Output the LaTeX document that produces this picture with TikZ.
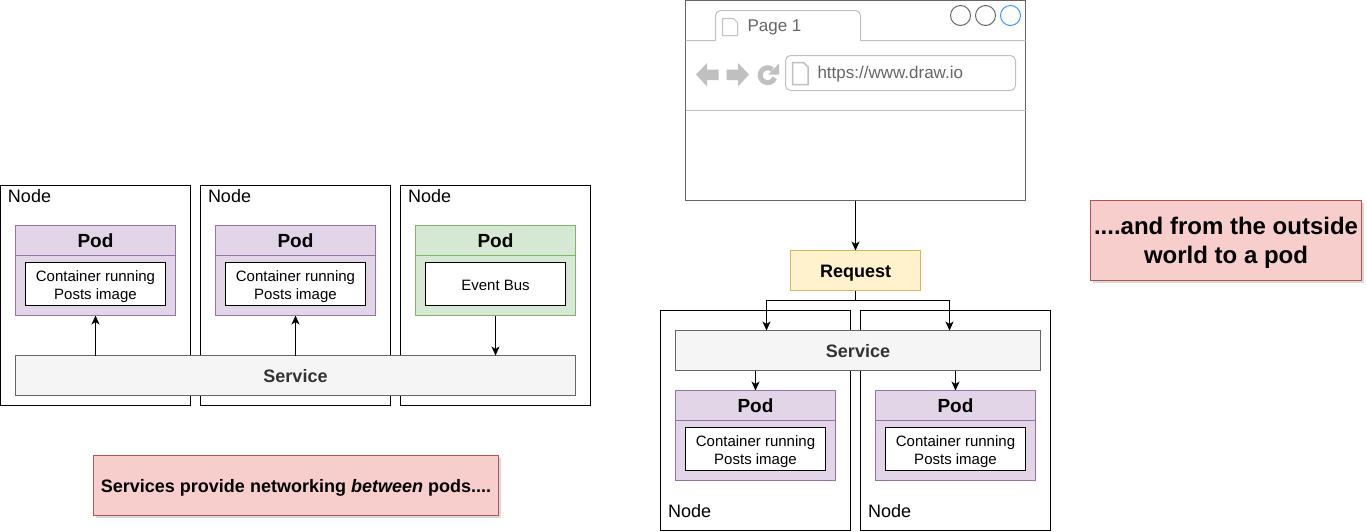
\documentclass[tikz,border=0pt]{standalone}
\usepackage{fontspec}
\setmainfont{Liberation Sans}
\usepackage{xcolor}
\usetikzlibrary{arrows.meta}
\usetikzlibrary{shadows}

\definecolor{podfill}{HTML}{E1D5E7}
\definecolor{podline}{HTML}{9673A6}
\definecolor{busfill}{HTML}{D5E8D4}
\definecolor{busline}{HTML}{82B366}
\definecolor{svcfill}{HTML}{F5F5F5}
\definecolor{svcline}{HTML}{666666}
\definecolor{reqfill}{HTML}{FFF2CC}
\definecolor{reqline}{HTML}{D6B656}
\definecolor{notefill}{HTML}{F8CECC}
\definecolor{noteline}{HTML}{B85450}
\definecolor{webgray}{HTML}{C0C0C0}
\definecolor{webtext}{HTML}{666666}
\definecolor{webblue}{HTML}{3399FF}

\tikzset{
    box/.style={draw, anchor=north west, inner sep=0pt, outer sep=0pt, align=center},
    workernode/.style={box, fill=white, minimum width=190pt, minimum height=220pt},
    nodetitle/.style={anchor=west, inner sep=0pt, font=\fontsize{18}{20}\selectfont},
    podbox/.style={box, draw=podline, fill=podfill, minimum width=160pt, minimum height=90pt},
    podhead/.style={box, draw=podline, fill=podfill, minimum width=160pt, minimum height=30pt,
        font=\fontsize{19}{22}\selectfont\bfseries},
    container/.style={box, fill=white, minimum width=140pt, minimum height=43pt,
        font=\fontsize{15}{18}\selectfont},
    service/.style={box, draw=svcline, fill=svcfill, text=black!80, minimum height=40pt,
        text height=14pt, text depth=0pt, font=\fontsize{18}{20}\selectfont\bfseries},
    note/.style={box, draw=noteline, fill=notefill,
        drop shadow={shadow xshift=2pt, shadow yshift=-2pt, opacity=.3}},
    link/.style={-{Stealth[length=9pt, width=8pt, inset=2.5pt]}},
    webline/.style={draw=webgray},
    webicon/.style={fill=webgray, draw=none},
    webpage/.style={draw=webgray, line width=1pt, fill=white},
    webtitle/.style={anchor=base west, inner sep=0pt, text=webtext, font=\fontsize{17}{20}\selectfont}
}

\begin{document}
\begin{tikzpicture}[x=1pt, y=-1pt, line width=1pt]
    \useasboundingbox (0,0) rectangle (1367,531);

    % left part
    \foreach \i/\x in {1/0.5, 2/200.5, 3/400.5} {
        \node[workernode] (worker\i) at (\x,185.5) {};
        \node[nodetitle] (workertitle\i) at (\x+7,196) {Node};
    }
    \foreach \i/\x in {1/15.5, 2/215.5} {
        \node[podbox] (pod\i) at (\x,225.5) {};
        \node[podhead] (podhead\i) at (\x,225.5) {Pod};
        \node[container] (posts\i) at (\x+10,262.5) {\rule{0pt}{17pt}Container running\\Posts image};
    }
    \node[podbox, draw=busline, fill=busfill] (pod3) at (415.5,225.5) {};
    \node[podhead, draw=busline, fill=busfill] (podhead3) at (415.5,225.5) {Pod};
    \node[container] (eventbus) at (425.5,262.5) {\rule{0pt}{12.5pt}Event Bus};
    \node[service, minimum width=560pt] (svcleft) at (15.5,355.5) {Service};
    \draw[link] (svcleft.north -| pod1.south) -- (pod1.south);
    \draw[link] (svcleft.north -| pod2.south) -- (pod2.south);
    \draw[link] (pod3.south) -- (svcleft.north -| pod3.south);

    \node[note, minimum width=405pt, minimum height=60pt, text depth=0pt, font=\fontsize{18}{20}\selectfont\bfseries]
        (betweennote) at (93.5,455.5) {Services provide networking \textit{between} pods....};

    % browser window
    \node[box, draw=webtext, fill=white, minimum width=340pt, minimum height=200pt] (browser) at (685.5,0.5) {};
    \draw[webline] (685.5,40.5) -- (715.5,40.5) -- (715.5,15.5) arc[start angle=180, end angle=90, radius=5pt]
        -- (855.5,10.5) arc[start angle=90, end angle=0, radius=5pt] -- (860.5,40.5) -- (1025.5,40.5);
    \draw[webline] (685.5,110.5) -- (1025.5,110.5);
    \draw[webpage] (722.5,18.5) -- (733.5,18.5) -- (737.5,22.5) -- (737.5,35.5) -- (722.5,35.5) -- cycle;
    \node[webtitle] (pagetab) at (747,31) {Page 1};
    \foreach \i/\x in {1/960.5, 2/985.5} {
        \node[draw=webtext, circle, inner sep=0pt, minimum size=20pt] (dot\i) at (\x,15.5) {};
    }
    \node[draw=webblue, circle, inner sep=0pt, minimum size=20pt] (dot3) at (1010.5,15.5) {};
    \fill[webicon] (696,74.5) -- (707,63) -- (707,69.5) -- (718.5,69.5) -- (718.5,80) -- (707,80) -- (707,86.5) -- cycle;
    \fill[webicon] (749,74.5) -- (738,63) -- (738,69.5) -- (726.5,69.5) -- (726.5,80) -- (738,80) -- (738,86.5) -- cycle;
    \draw[webgray, line width=5pt] (772.5,69.5) arc[start angle=50, end angle=340, radius=7.5pt];
    \fill[webicon] (779,63.5) -- (779,74.5) -- (768.5,74.5) -- cycle;
    \draw[webline, rounded corners=5pt] (785.5,55.5) rectangle (1015.5,90.5);
    \draw[webpage, line width=1.5pt] (792.5,62.5) -- (803.5,62.5) -- (808,67) -- (808,84.5) -- (792.5,84.5) -- cycle;
    \node[webtitle] (urltext) at (817,78) {https://www.draw.io};

    % right part
    \node[box, draw=reqline, fill=reqfill, minimum width=130pt, minimum height=40pt, text height=14pt, text depth=0pt,
        font=\fontsize{18}{20}\selectfont\bfseries] (request) at (790.5,250.5) {Request};
    \draw[link] (browser.south -| request.north) -- (request.north);
    \foreach \i/\x in {4/660.5, 5/860.5} {
        \node[workernode] (worker\i) at (\x,310.5) {};
        \node[nodetitle] (workertitle\i) at (\x+7,511) {Node};
    }
    \node[service, minimum width=365pt] (svcright) at (675.5,330.5) {Service};
    \foreach \i/\x in {4/675.5, 5/875.5} {
        \node[podbox] (pod\i) at (\x,390.5) {};
        \node[podhead] (podhead\i) at (\x,390.5) {Pod};
        \node[container] (posts\i) at (\x+10,427.5) {\rule{0pt}{17pt}Container running\\Posts image};
        \draw[link] (svcright.south -| pod\i.north) -- (pod\i.north);
    }
    \coordinate (splitleft) at (766.5,300.5);
    \coordinate (splitright) at (949.5,300.5);
    \draw[link] (request.south) |- (splitleft) -- (splitleft |- svcright.north);
    \draw[link] (request.south) |- (splitright) -- (splitright |- svcright.north);

    \node[note, minimum width=271pt, minimum height=80pt, text depth=0pt, font=\fontsize{24}{29}\selectfont\bfseries]
        (outsidenote) at (1090.5,200.5) {....and from the outside\\world to a pod};
\end{tikzpicture}
\end{document}
